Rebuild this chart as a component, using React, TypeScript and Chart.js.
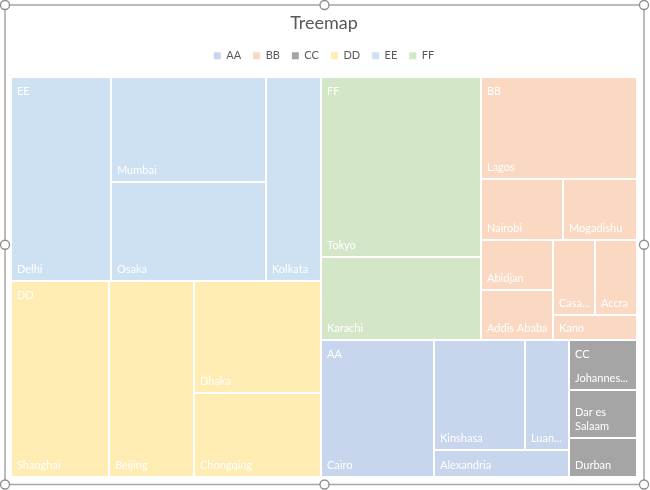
import React, { useEffect, useRef } from 'react';
import { Chart, registerables } from 'chart.js';

Chart.register(...registerables);

// ---- data ----
const GROUPS = ['AA', 'BB', 'CC', 'DD', 'EE', 'FF'];

const AA_CITIES = ['Cairo', 'Kinshasa', 'Luanda', 'Alexandria'];
const AA_VALUES = [20.07, 13.06, 6.31, 4.6];

const BB_CITIES = ['Lagos', 'Nairobi', 'Mogadishu', 'Abidjan', 'Addis Ababa', 'Casablanca', 'Accra', 'Kano'];
const BB_VALUES = [20.71, 6.45, 5.91, 4.65, 4.61, 4.19, 4.08, 2.69];

const CC_CITIES = ['Johannesburg', 'Dar es Salaam', 'Durban'];
const CC_VALUES = [4.36, 4.31, 3.35];

const DD_CITIES = ['Shanghai', 'Beijing', 'Dhaka', 'Chongqing'];
const DD_VALUES = [25.01, 21.53, 18.5, 13.75];

const EE_CITIES = ['Delhi', 'Mumbai', 'Osaka', 'Kolkata'];
const EE_VALUES = [26.66, 21.21, 19.98, 14.62];

const FF_CITIES = ['Tokyo', 'Karachi'];
const FF_VALUES = [37.4, 17.31];

// ---- styles ----
const COLORS = ['#C7D5ED', '#FAD8C1', '#A5A5A5', '#FFECB3', '#CEE1F2', '#D4E6C8'];
const FONT = 'Lato, "Open Sans", sans-serif';

const GROUP_CITIES = [AA_CITIES, BB_CITIES, CC_CITIES, DD_CITIES, EE_CITIES, FF_CITIES];
const GROUP_VALUES = [AA_VALUES, BB_VALUES, CC_VALUES, DD_VALUES, EE_VALUES, FF_VALUES];

const RHO = 0.837; // preferred width/height of a tile

type Box = { x: number; y: number; w: number; h: number };

const sum = (a: number[]) => a.reduce((s, v) => s + v, 0);
const descOrder = (a: number[]) => a.map((_, i) => i).sort((p, q) => a[q] - a[p]);

function squarify(values: number[], box: Box, kx: number, ky: number): Box[] {
  const out: Box[] = [];
  let r = { ...box };
  let remaining = sum(values);
  let i = 0;
  while (i < values.length) {
    const W = r.w * kx;
    const H = r.h * ky;
    const vertical = W >= H;
    const L = vertical ? H : W;
    const perUnit = (W * H) / remaining;
    const score = (row: number[]) => {
      const t = (sum(row) * perUnit) / L;
      let m = 0;
      for (const v of row) {
        const len = (v * perUnit) / t;
        const a = vertical ? t / len : len / t;
        m = Math.max(m, a / RHO, RHO / a);
      }
      return m;
    };
    let j = i + 1;
    let best = score(values.slice(i, j));
    while (j < values.length) {
      const s = score(values.slice(i, j + 1));
      if (s > best) break;
      best = s;
      j++;
    }
    const row = values.slice(i, j);
    const rowSum = sum(row);
    const frac = rowSum / remaining;
    if (vertical) {
      const tw = r.w * frac;
      let y = r.y;
      for (const v of row) {
        const hh = (r.h * v) / rowSum;
        out.push({ x: r.x, y, w: tw, h: hh });
        y += hh;
      }
      r = { x: r.x + tw, y: r.y, w: r.w - tw, h: r.h };
    } else {
      const th = r.h * frac;
      let x = r.x;
      for (const v of row) {
        const ww = (r.w * v) / rowSum;
        out.push({ x, y: r.y, w: ww, h: th });
        x += ww;
      }
      r = { x: r.x, y: r.y + th, w: r.w, h: r.h - th };
    }
    remaining -= rowSum;
    i = j;
  }
  return out;
}

function truncate(ctx: CanvasRenderingContext2D, s: string, maxW: number) {
  if (ctx.measureText(s).width <= maxW) return s;
  for (let n = s.length - 1; n > 0; n--) {
    const t = s.slice(0, n).trimEnd() + '...';
    if (ctx.measureText(t).width <= maxW) return t;
  }
  return '';
}

function fitLabel(ctx: CanvasRenderingContext2D, text: string, maxW: number, maxLines: number) {
  if (ctx.measureText(text).width <= maxW) return [text];
  const words = text.split(' ');
  if (words.length > 1 && maxLines > 1) {
    const lines: string[] = [];
    let cur = '';
    for (const w of words) {
      const t = cur ? cur + ' ' + w : w;
      if (!cur || ctx.measureText(t).width <= maxW) cur = t;
      else {
        lines.push(cur);
        cur = w;
      }
    }
    lines.push(cur);
    if (lines.length <= maxLines) return lines.map((l) => truncate(ctx, l, maxW));
  }
  return [truncate(ctx, text, maxW)];
}

const treemapPlugin = {
  id: 'treemapCells',
  afterDatasetsDraw(chart: any) {
    const xs = chart.scales.x;
    const ys = chart.scales.y;
    const kx = Math.abs(xs.getPixelForValue(1) - xs.getPixelForValue(0));
    const ky = Math.abs(ys.getPixelForValue(1) - ys.getPixelForValue(0));
    const full: Box = { x: xs.min, y: ys.min, w: xs.max - xs.min, h: ys.max - ys.min };
    const totals = GROUP_VALUES.map(sum);
    const gOrder = descOrder(totals);
    const gBoxes = squarify(gOrder.map((g) => totals[g]), full, kx, ky);
    const ctx: CanvasRenderingContext2D = chart.ctx;
    ctx.save();
    gOrder.forEach((g, gi) => {
      const vals = GROUP_VALUES[g];
      const names = GROUP_CITIES[g];
      const lOrder = descOrder(vals);
      const boxes = squarify(lOrder.map((k) => vals[k]), gBoxes[gi], kx, ky);
      boxes.forEach((b, bi) => {
        const x0 = Math.round(xs.getPixelForValue(b.x));
        const x1 = Math.round(xs.getPixelForValue(b.x + b.w));
        const y0 = Math.round(ys.getPixelForValue(b.y));
        const y1 = Math.round(ys.getPixelForValue(b.y + b.h));
        ctx.fillStyle = COLORS[g];
        ctx.fillRect(x0 + 1, y0 + 1, x1 - x0 - 2, y1 - y0 - 2);
        ctx.fillStyle = '#FFFFFF';
        ctx.font = `11px ${FONT}`;
        ctx.textBaseline = 'alphabetic';
        ctx.textAlign = 'left';
        let topUsed = 12;
        if (bi === 0) {
          ctx.fillText(GROUPS[g], x0 + 6, y0 + 18);
          topUsed = 26;
        }
        const maxLines = Math.max(1, Math.floor((y1 - y0 - topUsed) / 14));
        const lines = fitLabel(ctx, names[lOrder[bi]], x1 - x0 - 10, maxLines);
        lines.forEach((ln, li) => {
          ctx.fillText(ln, x0 + 6, y1 - 8 - (lines.length - 1 - li) * 14);
        });
      });
    });
    ctx.restore();
  },
};

const framePlugin = {
  id: 'chartFrame',
  afterDraw(chart: any) {
    const ctx: CanvasRenderingContext2D = chart.ctx;
    const L = 5, T = 5, R = chart.width - 6, B = chart.height - 5.5;
    ctx.save();
    ctx.strokeStyle = '#A6A6A6';
    ctx.lineWidth = 1.5;
    ctx.strokeRect(L, T, R - L, B - T);
    const mx = (L + R) / 2;
    const my = (T + B) / 2;
    const pts = [[L, T], [mx, T], [R, T], [L, my], [R, my], [L, B], [mx, B], [R, B]];
    for (const [x, y] of pts) {
      ctx.beginPath();
      ctx.arc(x, y, 4.5, 0, Math.PI * 2);
      ctx.fillStyle = '#FFFFFF';
      ctx.fill();
      ctx.strokeStyle = '#8C8C8C';
      ctx.lineWidth = 1.3;
      ctx.stroke();
    }
    ctx.restore();
  },
};

export default function App() {
  const ref = useRef<HTMLCanvasElement>(null);
  useEffect(() => {
    const chart = new Chart(ref.current as HTMLCanvasElement, {
      type: 'scatter',
      data: {
        datasets: GROUPS.map((g, i) => ({
          label: g,
          data: [],
          backgroundColor: COLORS[i],
          borderColor: COLORS[i],
        })),
      },
      options: {
        animation: false,
        responsive: false,
        devicePixelRatio: 1,
        events: [],
        layout: { padding: { top: 0, left: 11, right: 13, bottom: 13.5 } },
        scales: {
          x: { type: 'linear', min: 0, max: 100, display: false },
          y: { type: 'linear', min: 0, max: 100, reverse: true, display: false },
        },
        plugins: {
          title: {
            display: true,
            text: 'Treemap',
            color: '#595959',
            font: { family: FONT, size: 18, weight: 'normal' },
            padding: { top: 12, bottom: 4.6 },
          },
          subtitle: {
            display: true,
            text: '',
            weight: 500,
            font: { size: 1 },
            padding: { top: 0, bottom: 4.6 },
          } as any,
          legend: {
            position: 'top',
            labels: {
              boxWidth: 7,
              boxHeight: 7,
              padding: 12,
              color: '#595959',
              font: { family: FONT, size: 11 },
              generateLabels: () =>
                GROUPS.map((g, i) => ({
                  text: g,
                  fillStyle: COLORS[i],
                  strokeStyle: COLORS[i],
                  lineWidth: 0,
                  hidden: false,
                  datasetIndex: i,
                  fontColor: '#595959',
                })),
            },
          },
          tooltip: { enabled: false },
        },
      },
      plugins: [treemapPlugin, framePlugin],
    });
    return () => chart.destroy();
  }, []);
  return (
    <div style={{ position: 'absolute', left: 0, top: 0, width: 650, height: 490, background: '#FFFFFF' }}>
      <canvas ref={ref} width={650} height={490} style={{ display: 'block' }} />
    </div>
  );
}
